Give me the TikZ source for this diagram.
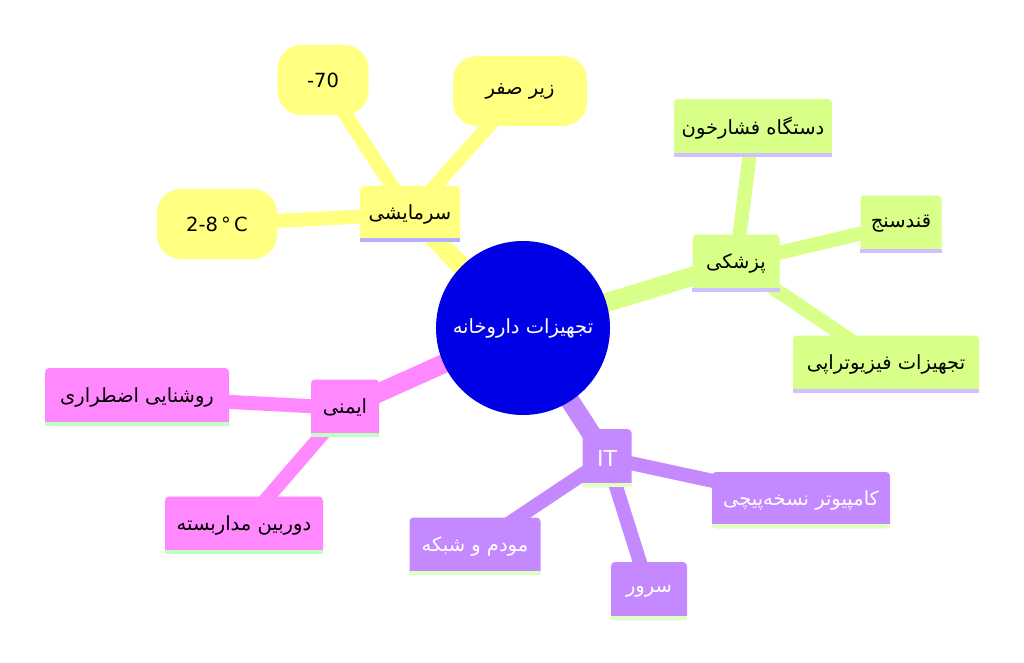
\documentclass[tikz,border=0pt]{standalone}
\usepackage{fontspec}
\setmainfont{DejaVu Sans}
\newfontfamily\arabicfont[Script=Arabic]{DejaVu Sans}
\TeXXeTstate=1
\usetikzlibrary{backgrounds}
\definecolor{cblue}{HTML}{0000E6}
\definecolor{cyel}{HTML}{FFFF80}
\definecolor{cgrn}{HTML}{D8FF88}
\definecolor{cpink}{HTML}{FF88FF}
\definecolor{cpurp}{HTML}{C488FF}
\definecolor{ulyel}{HTML}{B0B0FF}
\definecolor{ulgrn}{HTML}{D0C0FF}
\definecolor{ulpink}{HTML}{C0FFC0}
\definecolor{ulpurp}{HTML}{E0FFC0}
\newcommand\fatext[1]{{\arabicfont\beginR #1\endR}}
\newcommand\ulbar[2]{\fill[#2] (#1.south west) rectangle ([yshift=4pt]#1.south east);}
\begin{document}
\begin{tikzpicture}[x=1pt,y=-1pt,
  txt/.style={font=\fontsize{19.5}{22}\selectfont},
  boxn/.style={txt, fill=#1, rounded corners=4pt, inner sep=0pt, text=black},
  leafy/.style={txt, fill=cyel, rounded corners=24pt, inner sep=0pt, text=black},
  hub/.style={circle, fill=cblue, minimum size=174pt, inner sep=0pt, text=white, txt},
  mainln/.style={line width=19pt, draw=#1},
  subln/.style={line width=14pt, draw=#1}]
\useasboundingbox (0,0) rectangle (1024,663);

% hub
\node[hub] (c) at (523,328) {\fatext{تجهیزات داروخانه}};

% cooling
\node[boxn=cyel, minimum width=100pt, minimum height=56pt] (s) at (410,214) {\fatext{سرمایشی}};
\ulbar{s}{ulyel}
\node[leafy, minimum width=91pt, minimum height=70pt] (s1) at (323,80) {-70};
\node[leafy, minimum width=134pt, minimum height=70pt] (s2) at (520,91) {\fatext{زیر صفر}};
\node[leafy, minimum width=120pt, minimum height=70pt] (s3) at (217,224) {2-8\,°\,C};

% medical
\node[boxn=cgrn, minimum width=87pt, minimum height=57pt] (p) at (736,263) {\fatext{پزشکی}};
\ulbar{p}{ulgrn}
\node[boxn=cgrn, minimum width=158pt, minimum height=58pt] (p1) at (753,128) {\fatext{دستگاه فشارخون}};
\ulbar{p1}{ulgrn}
\node[boxn=cgrn, minimum width=81pt, minimum height=57pt] (p2) at (901,224) {\fatext{قندسنج}};
\ulbar{p2}{ulgrn}
\node[boxn=cgrn, minimum width=186pt, minimum height=57pt] (p3) at (886,364) {\fatext{تجهیزات فیزیوتراپی}};
\ulbar{p3}{ulgrn}

% safety
\node[boxn=cpink, minimum width=68pt, minimum height=57pt] (a) at (345,408) {\fatext{ایمنی}};
\ulbar{a}{ulpink}
\node[boxn=cpink, minimum width=184pt, minimum height=58pt] (a1) at (137,397) {\fatext{روشنایی اضطراری}};
\ulbar{a1}{ulpink}
\node[boxn=cpink, minimum width=158pt, minimum height=57pt] (a2) at (244,525) {\fatext{دوربین مداربسته}};
\ulbar{a2}{ulpink}

% IT
\node[boxn=cpurp, text=white, minimum width=49pt, minimum height=58pt, font=\fontsize{22}{24}\selectfont] (t) at (607,458) {IT};
\ulbar{t}{ulpurp}
\node[boxn=cpurp, text=white, minimum width=178pt, minimum height=56pt] (t1) at (801,500) {\fatext{کامپیوتر نسخه‌پیچی}};
\ulbar{t1}{ulpurp}
\node[boxn=cpurp, text=white, minimum width=131pt, minimum height=57pt] (t2) at (475,546) {\fatext{مودم و شبکه}};
\ulbar{t2}{ulpurp}
\node[boxn=cpurp, text=white, minimum width=76pt, minimum height=58pt] (t3) at (649,591) {\fatext{سرور}};
\ulbar{t3}{ulpurp}

\begin{scope}[on background layer]
  \draw[mainln=cyel] (c.center) -- (s.center);
  \draw[subln=cyel] (s.center) -- (s1.center);
  \draw[subln=cyel] (s.center) -- (s2.center);
  \draw[subln=cyel] (s.center) -- (s3.center);
  \draw[mainln=cgrn] (c.center) -- (p.center);
  \draw[subln=cgrn] (p.center) -- (p1.center);
  \draw[subln=cgrn] (p.center) -- (p2.center);
  \draw[subln=cgrn] (p.center) -- (p3.center);
  \draw[mainln=cpink] (c.center) -- (a.center);
  \draw[subln=cpink] (a.center) -- (a1.center);
  \draw[subln=cpink] (a.center) -- (a2.center);
  \draw[mainln=cpurp] (c.center) -- (t.center);
  \draw[subln=cpurp] (t.center) -- (t1.center);
  \draw[subln=cpurp] (t.center) -- (t2.center);
  \draw[subln=cpurp] (t.center) -- (t3.center);
\end{scope}
\end{tikzpicture}
\end{document}
